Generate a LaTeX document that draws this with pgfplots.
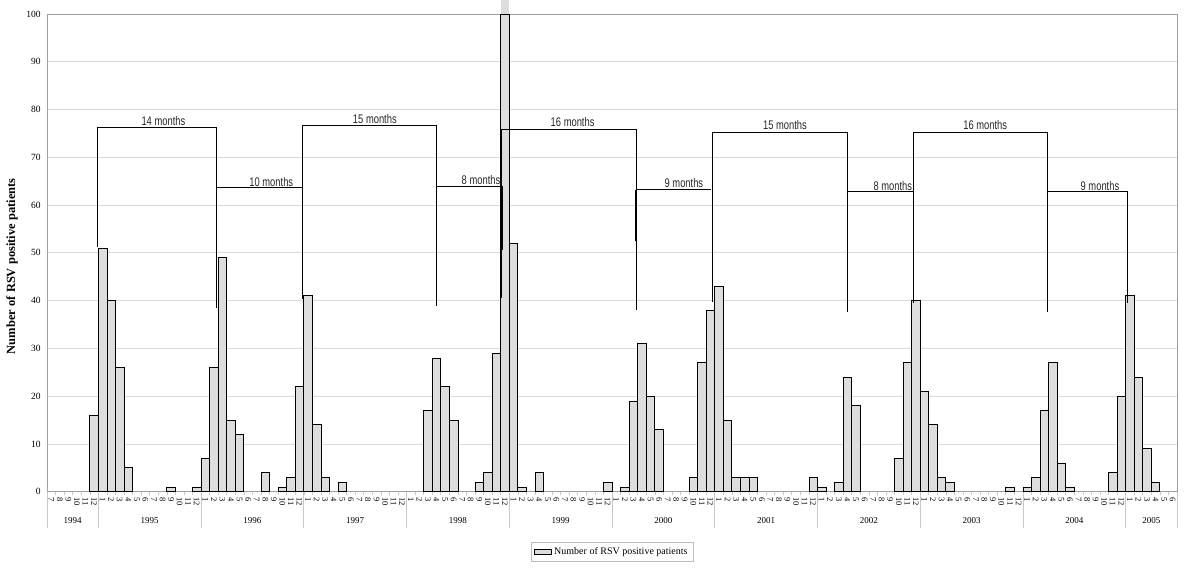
\documentclass[border=0pt]{standalone}
\usepackage{fontspec}
\setmainfont{Liberation Serif}
\newfontfamily\cond[FakeStretch=0.75]{Liberation Sans}
\usepackage{pgfplots}
\pgfplotsset{compat=1.18}
\definecolor{frameC}{RGB}{160,160,160}
\definecolor{gridC}{RGB}{218,218,218}
\definecolor{sepC}{RGB}{200,200,200}
\definecolor{barC}{RGB}{221,221,221}
\definecolor{legC}{RGB}{190,190,190}
\begin{document}
\begin{tikzpicture}
\begin{axis}[
  scale only axis, width=1130bp, height=477.7bp,
  xmin=-0.5, xmax=131.5, ymin=0, ymax=100,
  clip=false,
  axis line style={draw=frameC, line width=0.9bp},
  xtick pos=bottom, ytick pos=left, tick align=outside,
  ytick={0,10,...,100},
  ymajorgrids, grid style={draw=gridC, line width=0.8bp},
  major y tick style={draw=none},
  yticklabel style={font=\fontsize{9.5bp}{10bp}\selectfont, inner sep=2bp},
  /pgf/number format/assume math mode=true,
  xtick={0,...,131},
  xticklabels={7,8,9,10,11,12,
    1,2,3,4,5,6,7,8,9,10,11,12, 1,2,3,4,5,6,7,8,9,10,11,12,
    1,2,3,4,5,6,7,8,9,10,11,12, 1,2,3,4,5,6,7,8,9,10,11,12,
    1,2,3,4,5,6,7,8,9,10,11,12, 1,2,3,4,5,6,7,8,9,10,11,12,
    1,2,3,4,5,6,7,8,9,10,11,12, 1,2,3,4,5,6,7,8,9,10,11,12,
    1,2,3,4,5,6,7,8,9,10,11,12, 1,2,3,4,5,6,7,8,9,10,11,12,
    1,2,3,4,5,6},
  xticklabel style={rotate=-90, anchor=west, font=\fontsize{8.5bp}{9bp}\selectfont, inner sep=1bp, xshift=0bp},
  major x tick style={draw=none},
  minor xtick={-0.5,0.5,...,131.5},
  minor x tick style={draw=sepC, line width=0.6bp},
  minor tick length=3bp,
  extra x ticks={-0.5,5.5,17.5,...,125.5,131.5},
  extra x tick labels={},
  extra x tick style={grid=none, major tick length=36bp, major x tick style={draw=sepC, line width=0.8bp}},
  ylabel={\bfseries Number of RSV positive patients},
  ylabel style={at={(axis description cs:-0.031,0.472)}, anchor=center, font=\fontsize{12.5bp}{13bp}\selectfont},
  legend style={at={(axis description cs:0.5,0)}, anchor=north, yshift=-50bp, draw=legC, line width=0.8bp,
    font=\fontsize{10bp}{11bp}\selectfont, inner sep=3.5bp, row sep=0bp},
  legend cell align=left,
]
% extension of the December 1998 bar beyond the top of the frame
\addplot[ybar, bar width=1, fill=barC, draw=none, forget plot] coordinates {(53,103)};
\addplot[ybar, bar width=1, fill=barC, draw=black, line width=0.8bp, area legend] coordinates {
  (5,16) (6,51) (7,40) (8,26) (9,5) (14,1) (17,1)
  (18,7) (19,26) (20,49) (21,15) (22,12) (25,4) (27,1) (28,3) (29,22)
  (30,41) (31,14) (32,3) (34,2)
  (44,17) (45,28) (46,22) (47,15) (50,2) (51,4) (52,29) (53,100)
  (54,52) (55,1) (57,4) (65,2)
  (67,1) (68,19) (69,31) (70,20) (71,13) (75,3) (76,27) (77,38)
  (78,43) (79,15) (80,3) (81,3) (82,3) (89,3)
  (90,1) (92,2) (93,24) (94,18) (99,7) (100,27) (101,40)
  (102,21) (103,14) (104,3) (105,2) (112,1)
  (114,1) (115,3) (116,17) (117,27) (118,6) (119,1) (124,4) (125,20)
  (126,41) (127,24) (128,9) (129,2)
};
\addlegendentry{Number of RSV positive patients}
% interval brackets
\addplot[black, line width=0.8bp, forget plot] coordinates {(5.38,51.2) (5.38,76.3) (19.24,76.3) (19.24,38.5)};
\addplot[black, line width=0.8bp, forget plot] coordinates {(19.24,63.6) (29.37,63.6)};
\addplot[black, line width=0.8bp, forget plot] coordinates {(29.37,40.3) (29.37,76.7) (45.02,76.7) (45.02,38.8)};
\addplot[black, line width=0.8bp, forget plot] coordinates {(45.02,63.9) (52.73,63.9) (52.73,50.7)};
\addplot[black, line width=1.4bp, forget plot] coordinates {(45.02,53.2) (45.02,63.9)};
\addplot[black, line width=0.8bp, forget plot] coordinates {(52.53,40.6) (52.53,75.8) (68.30,75.8) (68.30,38.1)};
\addplot[black, line width=0.8bp, forget plot] coordinates {(68.30,63.2) (77.03,63.2)};
\addplot[black, line width=1.4bp, forget plot] coordinates {(68.30,52.4) (68.30,63.2)};
\addplot[black, line width=0.8bp, forget plot] coordinates {(77.26,39.8) (77.26,75.3) (92.98,75.3) (92.98,37.7)};
\addplot[black, line width=0.8bp, forget plot] coordinates {(92.98,62.9) (100.69,62.9)};
\addplot[black, line width=1.4bp, forget plot] coordinates {(100.69,50.3) (100.69,62.9)};
\addplot[black, line width=0.8bp, forget plot] coordinates {(100.69,39.6) (100.69,75.3) (116.39,75.3) (116.39,37.7)};
\addplot[black, line width=0.8bp, forget plot] coordinates {(116.39,62.9) (125.69,62.9) (125.69,39.6)};
\begin{scope}[every node/.style={font=\cond\fontsize{12.5bp}{13bp}\selectfont, inner sep=0pt, text=black!85}]
\node at (axis cs:13.1,77.6) {14 months};
\node at (axis cs:25.7,64.8) {10 months};
\node at (axis cs:37.8,78.0) {15 months};
\node at (axis cs:50.2,65.3) {8 months};
\node at (axis cs:60.9,77.3) {16 months};
\node at (axis cs:73.9,64.6) {9 months};
\node at (axis cs:85.7,76.8) {15 months};
\node at (axis cs:98.3,64.0) {8 months};
\node at (axis cs:109.1,76.8) {16 months};
\node at (axis cs:122.5,64.0) {9 months};
\end{scope}
\begin{scope}[every node/.style={font=\fontsize{9bp}{10bp}\selectfont, inner sep=0pt, yshift=-29.2bp}]
\node at (axis cs:2.5,0) {1994};
\node at (axis cs:11.5,0) {1995};
\node at (axis cs:23.5,0) {1996};
\node at (axis cs:35.5,0) {1997};
\node at (axis cs:47.5,0) {1998};
\node at (axis cs:59.5,0) {1999};
\node at (axis cs:71.5,0) {2000};
\node at (axis cs:83.5,0) {2001};
\node at (axis cs:95.5,0) {2002};
\node at (axis cs:107.5,0) {2003};
\node at (axis cs:119.5,0) {2004};
\node at (axis cs:128.5,0) {2005};
\end{scope}
\coordinate (ll) at (rel axis cs:0,0);
\coordinate (ur) at (rel axis cs:1,1);
\end{axis}
\pgfresetboundingbox
\path ([shift={(-47bp,-78bp)}]ll) rectangle ([shift={(23bp,14bp)}]ur);
\end{tikzpicture}
\end{document}
